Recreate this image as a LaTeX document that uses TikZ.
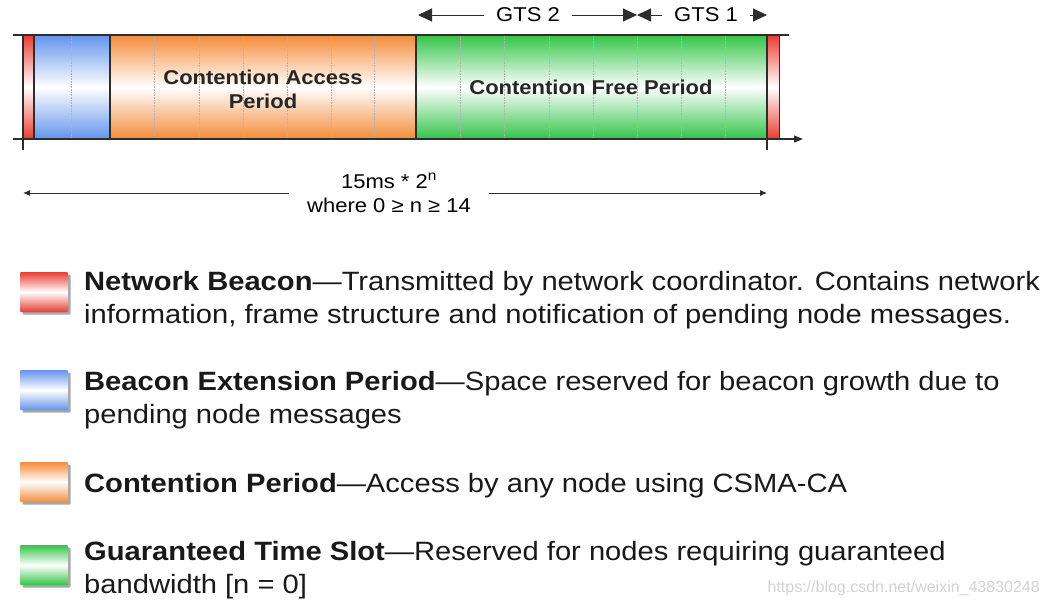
\documentclass[tikz,border=0pt]{standalone}
\usepackage{fontspec}
\setmainfont{Liberation Sans}
\newfontfamily\widefont{Liberation Sans}[FakeStretch=1.1]
\usetikzlibrary{arrows.meta, positioning, shadows}
\definecolor{beaconred}{RGB}{232,60,50}
\definecolor{extblue}{RGB}{100,148,236}
\definecolor{caporange}{RGB}{244,140,58}
\definecolor{gtsgreen}{RGB}{52,196,72}
\definecolor{edge}{RGB}{45,45,45}

\begin{document}
\begin{tikzpicture}[x=1pt, y=-1pt,
  bartext/.style={font=\widefont\fontsize{20}{24}\selectfont\bfseries, align=center, text=black!85},
  gtslabel/.style={font=\widefont\fontsize{20}{24}\selectfont, inner xsep=12pt},
  legtext/.style={font=\widefont\fontsize{26.5}{33}\selectfont, anchor=base west, align=left, inner sep=0pt, text=black!90},
  slotline/.style={gray!60, densely dotted, line width=0.6pt},
  swatch/.style={minimum width=48pt, minimum height=40pt, inner sep=0pt, rounded corners=1pt,
    drop shadow={shadow xshift=2.5pt, shadow yshift=-2.5pt, fill=gray!70, opacity=1}}]
  \useasboundingbox (0,0) rectangle (1050,605);

  % superframe
  \shade[top color=beaconred, bottom color=beaconred, middle color=white] (23,35) rectangle (34,139);
  \shade[top color=extblue, bottom color=extblue, middle color=white] (34,35) rectangle (110,139);
  \shade[top color=caporange, bottom color=caporange, middle color=white] (110,35) rectangle (416,139);
  \shade[top color=gtsgreen, bottom color=gtsgreen, middle color=white] (416,35) rectangle (767,139);
  \shade[top color=beaconred, bottom color=beaconred, middle color=white] (767,35) rectangle (779,139);
  \foreach \x in {71,154,199,243,287,331,374,460,504,549,593,637,681,725}
    \draw[slotline] (\x,36) -- (\x,138);
  \foreach \x in {34,110,416}
    \draw[edge, line width=1.2pt] (\x,35) -- (\x,139);
  \draw[edge, line width=0.8pt] (779,35) -- (779,139);
  \draw[edge, line width=1.2pt] (23,35) -- (23,150);
  \draw[edge, line width=1.2pt] (767,35) -- (767,150);
  \draw[edge, line width=1.2pt] (13,35) -- (789,35);
  \draw[edge, line width=1.2pt, -{Triangle[length=9pt, width=7pt]}] (13,139) -- (803,139);

  \node[bartext] (cap) at (263,89) {Contention Access\\Period};
  \node[bartext] (cfp) at (591,87) {Contention Free Period};

  % GTS marks
  \coordinate (gtsA) at (418,15);
  \coordinate (gtsB) at (637,15);
  \coordinate (gtsC) at (767,15);
  \node[gtslabel] (gts2) at (528,15) {GTS 2};
  \node[gtslabel] (gts1) at (706,15) {GTS 1};
  \draw[edge, line width=1pt, -{Triangle[length=14pt, width=13pt]}] (gts2.west) -- (gtsA);
  \draw[edge, line width=1pt, -{Triangle[length=14pt, width=13pt]}] (gts2.east) -- (gtsB);
  \draw[edge, line width=1pt, -{Triangle[length=14pt, width=13pt]}] (gts1.west) -- (gtsB);
  \draw[edge, line width=1pt, -{Triangle[length=14pt, width=13pt]}] (gts1.east) -- (gtsC);

  % superframe length
  \coordinate (dimL) at (23,193);
  \coordinate (dimR) at (767,193);
  \node[font=\widefont\fontsize{20}{24}\selectfont, align=center, inner xsep=18pt] (period) at (389,193) {15ms * 2\textsuperscript{n}\\where 0 ≥ n ≥ 14};
  \draw[edge, line width=1pt, -{Latex[length=7pt, width=6pt]}] (period.west) -- (dimL);
  \draw[edge, line width=1pt, -{Latex[length=7pt, width=6pt]}] (period.east) -- (dimR);

  % legend
  \node[swatch, top color=beaconred, bottom color=beaconred, middle color=white] (swbeacon) at (44,292) {};
  \node[swatch, top color=extblue, bottom color=extblue, middle color=white] (swext) at (44,390) {};
  \node[swatch, top color=caporange, bottom color=caporange, middle color=white] (swcap) at (44,482) {};
  \node[swatch, top color=gtsgreen, bottom color=gtsgreen, middle color=white] (swgts) at (44,565) {};
  \node[legtext] (legbeacon) at (84,323) {\textbf{Network Beacon}—Transmitted by network coordinator. Contains network\\information, frame structure and notification of pending node messages.};
  \node[legtext] (legext) at (84,423) {\textbf{Beacon Extension Period}—Space reserved for beacon growth due to\\pending node messages};
  \node[legtext] (legcap) at (84,492) {\textbf{Contention Period}—Access by any node using CSMA-CA};
  \node[legtext] (leggts) at (84,593) {\textbf{Guaranteed Time Slot}—Reserved for nodes requiring guaranteed\\bandwidth [n = 0]};

  \node[font=\fontsize{16}{20}\selectfont, text=gray!35, anchor=base east, inner sep=0pt] (mark) at (1040,592) {https://blog.csdn.net/weixin\_43830248};
\end{tikzpicture}
\end{document}
